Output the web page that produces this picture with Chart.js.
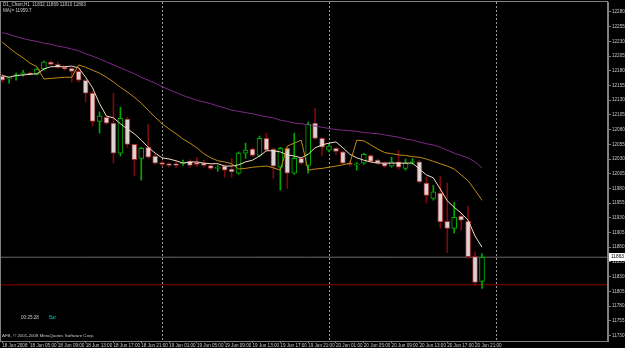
<!DOCTYPE html>
<html>
<head>
<meta charset="utf-8">
<script src="https://cdn.jsdelivr.net/npm/chart.js@4"></script>
<style>
  html, body { margin: 0; padding: 0; background: #000; }
  canvas { display: block; }
</style>
</head>
<body>
<canvas id="chart" width="625" height="348"></canvas>
<script>
/**
 * 시간축 라벨 (H1 봉, 4시간 간격)
 */
const timeLabels = ['18 Jun 2008', '18 Jun 05:00', '18 Jun 09:00', '18 Jun 13:00', '18 Jun 17:00', '18 Jun 21:00',
  '19 Jun 01:00', '19 Jun 05:00', '19 Jun 09:00', '19 Jun 13:00', '19 Jun 17:00', '19 Jun 21:00',
  '20 Jun 01:00', '20 Jun 05:00', '20 Jun 09:00', '20 Jun 13:00', '20 Jun 17:00', '20 Jun 21:00'];
const timeTickBars = [0, 4, 8, 12, 16, 20, 24, 28, 32, 36, 40, 44, 48, 52, 56, 60, 64, 68];

// 일 구분선 (19 Jun 00:00, 20 Jun 00:00, 21 Jun 00:00)
const daySeparators = [23, 47, 71];

const priceTicks = [12280, 12255, 12230, 12205, 12180, 12155, 12130, 12105, 12080, 12055, 12030, 12005,
  11980, 11955, 11930, 11905, 11880, 11855, 11830, 11805, 11780, 11755, 11730];

/**
 * 캔들 데이터 (OHLC)
 */
const opens = [12171, 12166, 12171, 12175, 12176, 12174, 12183, 12195, 12191, 12186,
  12184, 12179, 12164, 12142, 12094, 12101, 12091, 12040, 12098, 12055,
  12031, 12050, 12035, 12024, 12022, 12022, 12022, 12026, 12024, 12023,
  12019, 12014, 12018, 12013, 12006, 12040, 12047, 12036, 12065, 12047,
  12016, 12048, 12006, 12031, 12019, 12091, 12065, 12045, 12048, 12042,
  12023, 12020, 12023, 12036, 12028, 12023, 12018, 12025, 12014, 12024,
  12025, 11989, 11963, 11972, 11924, 11912, 11933, 11924, 11864, 11822];
const highs = [12174, 12169, 12176, 12181, 12178, 12185, 12197, 12197, 12195, 12188,
  12186, 12183, 12166, 12145, 12110, 12103, 12142, 12118, 12101, 12055,
  12050, 12089, 12038, 12027, 12024, 12025, 12028, 12029, 12033, 12028,
  12021, 12019, 12020, 12031, 12042, 12057, 12049, 12069, 12074, 12049,
  12050, 12050, 12074, 12033, 12093, 12116, 12067, 12055, 12050, 12044,
  12026, 12024, 12040, 12038, 12030, 12025, 12033, 12045, 12030, 12031,
  12028, 11999, 11985, 12001, 11989, 11956, 11938, 11950, 11872, 11869];
const lows = [12161, 12159, 12164, 12171, 12173, 12173, 12181, 12190, 12184, 12181,
  12161, 12161, 12127, 12086, 12074, 12089, 12023, 12035, 12050, 12002,
  11994, 12031, 12021, 12018, 12016, 12015, 12019, 12016, 12017, 12016,
  12012, 12009, 11999, 11999, 12004, 12031, 12034, 12034, 12043, 11997,
  11977, 11980, 12004, 12021, 12006, 12063, 12036, 12042, 12038, 12021,
  12018, 12011, 12021, 12024, 12021, 12016, 12016, 12013, 12011, 12021,
  11989, 11955, 11960, 11912, 11871, 11904, 11909, 11861, 11815, 11810];
const closes = [12164, 12168, 12173, 12176, 12174, 12183, 12195, 12191, 12186, 12183,
  12179, 12164, 12142, 12094, 12103, 12091, 12040, 12099, 12055, 12029,
  12048, 12033, 12023, 12021, 12019, 12019, 12023, 12019, 12021, 12019,
  12014, 12016, 12011, 12008, 12040, 12045, 12036, 12065, 12045, 12018,
  12048, 12006, 12031, 12023, 12089, 12065, 12050, 12052, 12043, 12023,
  12021, 12022, 12038, 12026, 12023, 12018, 12025, 12016, 12023, 12025,
  11991, 11968, 11974, 11923, 11912, 11931, 11926, 11864, 11820, 11863];

/**
 * 이동평균선 (화면에서 읽은 값)
 */
const maFast = [12172, 12169, 12172, 12173, 12174, 12175, 12183, 12187, 12187, 12187,
  12188, 12185, 12169, 12151, 12124, 12103, 12100, 12090, 12081, 12073,
  12062, 12050, 12040, 12032, 12030, 12027, 12023, 12025, 12025, 12023,
  12022, 12022, 12018, 12018, 12020, 12025, 12028, 12035, 12044, 12044,
  12042, 12037, 12035, 12032, 12038, 12049, 12054, 12057, 12059, 12049,
  12038, 12032, 12028, 12025, 12023, 12023, 12023, 12023, 12023, 12023,
  12013, 12003, 11998, 11979, 11959, 11948, 11938, 11926, 11899, 11880];
const maGold = [12229, 12219, 12210, 12202, 12193, 12187, 12166, 12167, 12168, 12169,
  12169, 12190, 12186, 12181, 12176, 12169, 12161, 12152, 12144, 12135,
  12125, 12113, 12101, 12090, 12081, 12073, 12064, 12057, 12049, 12039,
  12032, 12027, 12025, 12022, 12013, 12014, 12016, 12017, 12018, 12015,
  12011, 12052, 12057, 12062, 12011, 12013, 12014, 12016, 12018, 12020,
  12023, 12062, 12061, 12054, 12047, 12041, 12039, 12037, 12036, 12034,
  12033, 12030, 12026, 12022, 12018, 12013, 12003, 11993, 11977, 11959.7];
const maSlow = [12245, 12242, 12238, 12235, 12232, 12230, 12227, 12225, 12222, 12220,
  12217, 12214, 12209, 12205, 12200, 12195, 12190, 12185, 12180, 12175,
  12169, 12164, 12159, 12153, 12148, 12143, 12138, 12134, 12130, 12127,
  12124, 12120, 12117, 12113, 12111, 12109, 12107, 12104, 12102, 12100,
  12096, 12094, 12091, 12090, 12088, 12086, 12084, 12082, 12080, 12079,
  12078, 12077, 12075, 12074, 12073, 12071, 12069, 12067, 12064, 12062,
  12059, 12056, 12054, 12050, 12045, 12040, 12036, 12032, 12025, 12015];

// 빨간 수평선 (구간별 값)
const redLineBars = [-1, 88];
const redLineValues = [11816, 11816];
const bidPrice = 11863;

const headerText = 'D1_Chart,H1  11832 11869 11810 11863';
const maText = 'MA(= 11959.7';
const timerText = '00:25:28';
const barText = 'Bar';
const copyText = 'AFB, \u00a9 2001-2008 MetaQuotes Software Corp.';

const FONT = '"Liberation Sans", Arial, sans-serif';
const GRAY = '#808080';
const TEXT = '#c8c8c8';

const isBull = i => closes[i] >= opens[i];

/**
 * 캔들 몸통/꼬리 데이터셋 생성
 */
function createCandleDatasets() {
  const idx = opens.map((_, i) => i);
  const wicks = {
    type: 'bar',
    label: 'wick',
    order: 2,
    grouped: false,
    barThickness: 1,
    borderWidth: 0,
    data: idx.map(i => ({ x: i, y: [lows[i], highs[i]] })),
    backgroundColor: idx.map(i => isBull(i) ? '#00a800' : '#7a0a0a')
  };
  const bodies = {
    type: 'bar',
    label: 'body',
    order: 1,
    grouped: false,
    barThickness: 5,
    borderWidth: 1,
    borderSkipped: false,
    minBarLength: 1,
    data: idx.map(i => ({ x: i, y: [opens[i], closes[i]] })),
    backgroundColor: idx.map(i => isBull(i) ? '#000000' : '#ddd2d2'),
    borderColor: idx.map(i => isBull(i) ? '#00b000' : '#9a3030')
  };
  return [wicks, bodies];
}

function lineDataset(values, color, order) {
  return {
    type: 'line',
    order: order,
    data: values.map((v, i) => ({ x: i, y: v })),
    borderColor: color,
    borderWidth: 1,
    pointRadius: 0,
    tension: 0,
    fill: false
  };
}

/**
 * MT4 스타일 장식 (구분선, 테두리, 텍스트)
 */
const mtPlugin = {
  id: 'mt',
  beforeDatasetsDraw(c) {
    const { ctx, chartArea: a, scales: { x } } = c;
    ctx.save();
    ctx.strokeStyle = '#9a9a9a';
    ctx.lineWidth = 1;
    ctx.setLineDash([2, 2]);
    daySeparators.forEach(d => {
      const px = Math.round(x.getPixelForValue(d)) + 0.5;
      ctx.beginPath();
      ctx.moveTo(px, a.top);
      ctx.lineTo(px, a.bottom);
      ctx.stroke();
    });
    ctx.restore();
  },
  afterDraw(c) {
    const { ctx, chartArea: a, scales: { y } } = c;
    ctx.save();
    ctx.strokeStyle = GRAY;
    ctx.lineWidth = 1;
    ctx.strokeRect(a.left - 0.5, a.top - 0.5, a.right - a.left, a.bottom - a.top + 1);

    ctx.font = '4.6px ' + FONT;
    ctx.textBaseline = 'top';
    ctx.fillStyle = TEXT;
    ctx.fillText(headerText, 3, 2);
    ctx.fillText(maText, 3, 8);
    ctx.fillText(timerText, 21, 315);
    ctx.fillStyle = '#00b8b8';
    ctx.fillText(barText, 49, 315);
    ctx.fillStyle = TEXT;
    ctx.font = '4.4px ' + FONT;
    ctx.fillText(copyText, 2, 334);

    // 현재가 라벨
    const py = Math.round(y.getPixelForValue(bidPrice));
    ctx.fillStyle = '#ffffff';
    ctx.fillRect(a.right + 1, py - 4, 16, 8);
    ctx.fillStyle = '#000000';
    ctx.font = '4.8px ' + FONT;
    ctx.textBaseline = 'middle';
    ctx.fillText(String(bidPrice), a.right + 3, py);
    ctx.restore();
  }
};

const ctx = document.getElementById('chart').getContext('2d');

new Chart(ctx, {
  type: 'bar',
  data: {
    datasets: [
      ...createCandleDatasets(),
      lineDataset(maSlow, '#7c2a86', 0),
      lineDataset(maGold, '#c08a14', 0),
      lineDataset(maFast, '#f0dcc4', 0),
      {
        type: 'line', order: 3,
        data: redLineBars.map((b, i) => ({ x: b, y: redLineValues[i] })),
        borderColor: '#8a0000', borderWidth: 1, pointRadius: 0, stepped: true
      },
      {
        type: 'line', order: 3,
        data: [{ x: -1, y: bidPrice }, { x: 88, y: bidPrice }],
        borderColor: '#6a6a6a', borderWidth: 1, pointRadius: 0
      }
    ]
  },
  options: {
    responsive: false,
    animation: false,
    devicePixelRatio: 1,
    layout: { padding: { top: 2, left: 1, right: 0, bottom: 0 } },
    plugins: {
      legend: { display: false },
      tooltip: { enabled: false }
    },
    scales: {
      x: {
        type: 'linear',
        position: 'bottom',
        min: -0.17,
        max: 87.12,
        offset: false,
        grid: { display: true, drawOnChartArea: false, tickLength: 2, color: GRAY, offset: false },
        border: { color: GRAY },
        ticks: {
          align: 'start',
          padding: 0,
          autoSkip: false,
          maxRotation: 0,
          minRotation: 0,
          color: TEXT,
          font: { family: FONT, size: 4.6 },
          callback: (v, i) => timeLabels[i]
        },
        afterBuildTicks: s => { s.ticks = timeTickBars.map(v => ({ value: v })); },
        afterFit: s => { s.height = 7; s.paddingLeft = 0; s.paddingRight = 0; }
      },
      y: {
        type: 'linear',
        position: 'right',
        min: 11720.5,
        max: 12297,
        grid: { display: true, drawOnChartArea: false, tickLength: 3, color: GRAY },
        border: { color: GRAY },
        ticks: {
          padding: 1,
          color: TEXT,
          font: { family: FONT, size: 4.6 },
          callback: v => String(v)
        },
        afterBuildTicks: s => { s.ticks = priceTicks.map(v => ({ value: v })); },
        afterFit: s => { s.width = 17; s.paddingTop = 0; s.paddingBottom = 0; }
      }
    }
  },
  plugins: [mtPlugin]
});
</script>
</body>
</html>
